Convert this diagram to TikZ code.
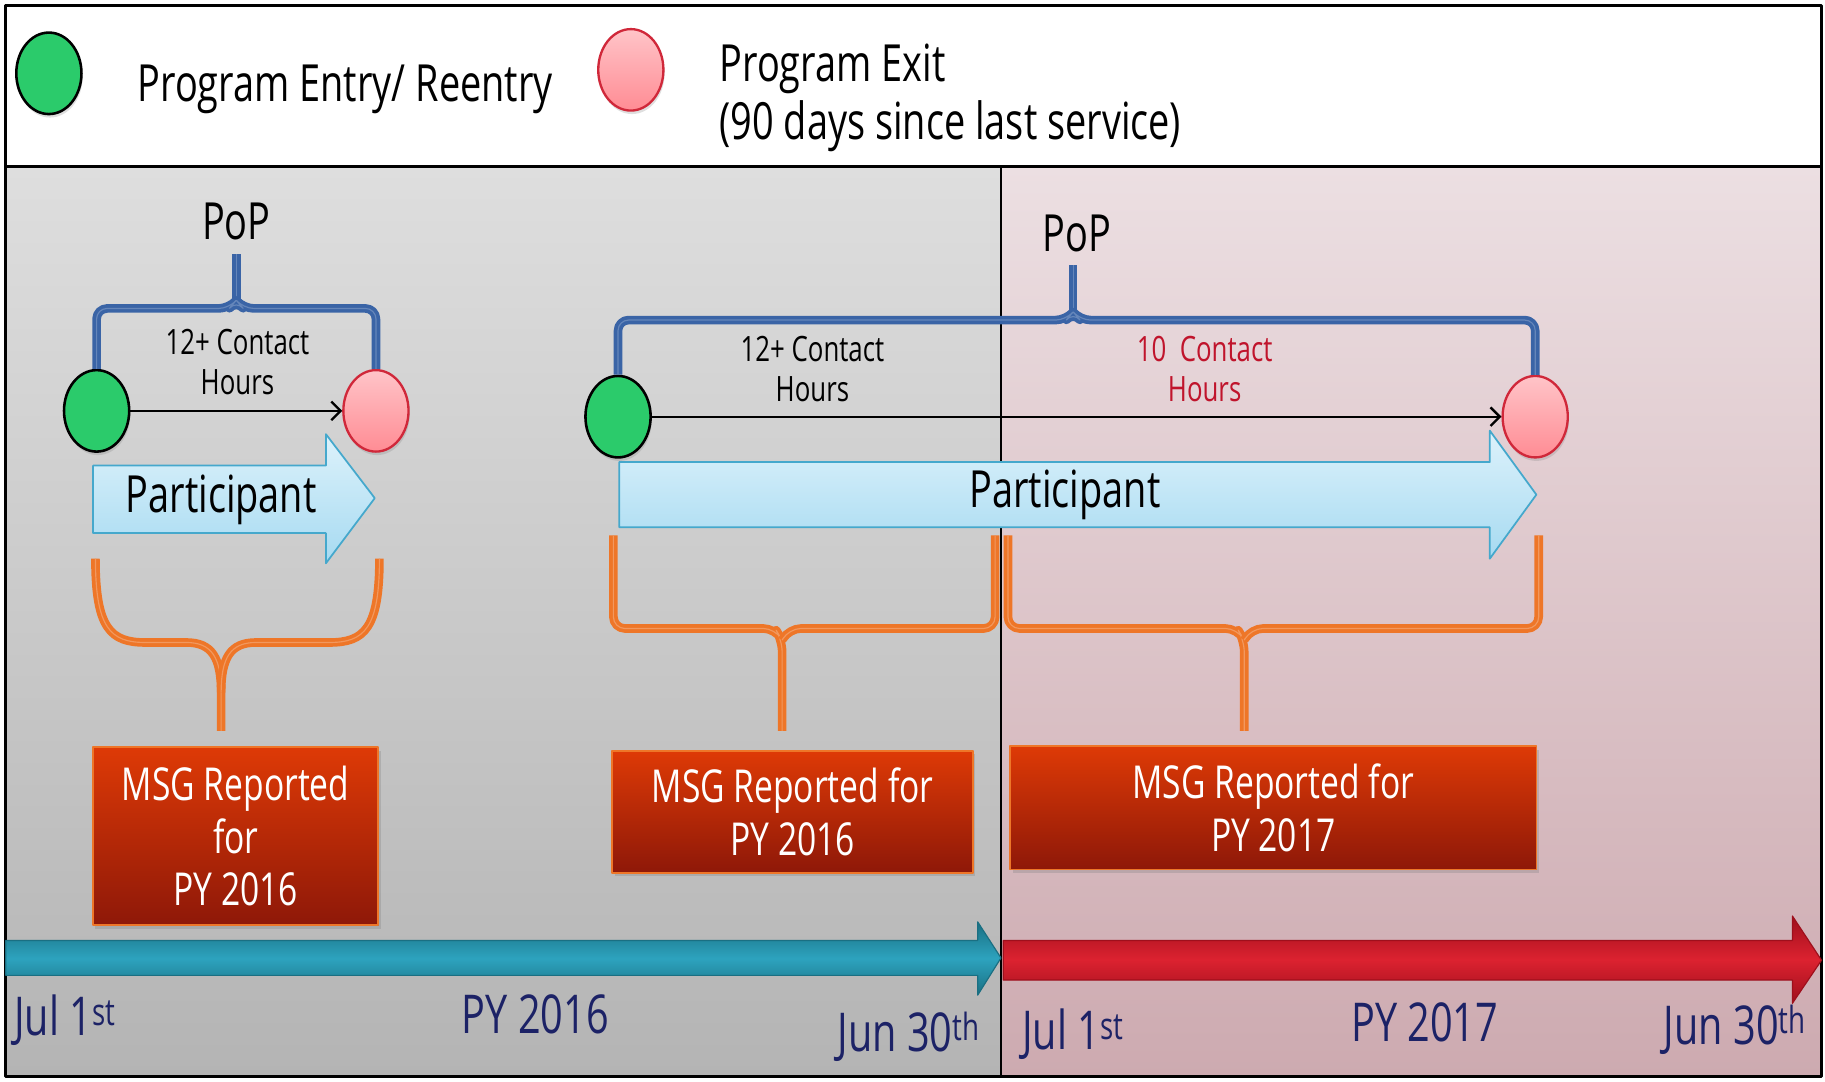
\documentclass[tikz,border=0pt]{standalone}
\usepackage{fontspec}
\setmainfont{Open Sans}[FakeStretch=0.74]
\usetikzlibrary{arrows.meta,shapes.geometric,shadows}
\definecolor{entrygreen}{HTML}{2BCB6B}
\definecolor{exitpink}{HTML}{FFC4C8}
\definecolor{exitpinkdk}{HTML}{FF8C94}
\definecolor{exitedge}{HTML}{D0283A}
\definecolor{popblue}{HTML}{3A64A6}
\definecolor{msgorange}{HTML}{EE7628}
\definecolor{msgtop}{HTML}{DE3A06}
\definecolor{msgbot}{HTML}{8E1808}
\definecolor{parttop}{HTML}{DDF2FB}
\definecolor{partbot}{HTML}{A6DAF1}
\definecolor{partedge}{HTML}{45A8CC}
\definecolor{graytop}{HTML}{DEDEDE}
\definecolor{graybot}{HTML}{B4B4B4}
\definecolor{pinktop}{HTML}{ECDFE2}
\definecolor{pinkbot}{HTML}{CDAAB0}
\definecolor{tealmid}{HTML}{2DA3BE}
\definecolor{tealdk}{HTML}{1A6F82}
\definecolor{redmid}{HTML}{DC2230}
\definecolor{reddk}{HTML}{9E0F1C}
\definecolor{navy}{HTML}{1C2266}
\definecolor{hoursred}{HTML}{C0142C}
\begin{document}
\begin{tikzpicture}[x=1pt, y=-1pt, line join=round,
  entry/.style={ellipse, draw=black, line width=2.2pt, fill=entrygreen, minimum width=56pt, minimum height=70pt, inner sep=0pt, drop shadow={opacity=0.25, shadow xshift=1pt, shadow yshift=-3pt}},
  exit/.style={ellipse, draw=exitedge, line width=2pt, top color=exitpink, bottom color=exitpinkdk, minimum width=56pt, minimum height=70pt, inner sep=0pt, drop shadow={opacity=0.25, shadow xshift=1pt, shadow yshift=-3pt}},
  legend/.style={align=left, inner sep=0pt, font=\fontsize{44}{50}\selectfont},
  pop/.style={anchor=base, inner sep=0pt, font=\fontsize{44}{50}\selectfont},
  hours/.style={align=center, inner sep=0pt, font=\fontsize{30}{34}\selectfont},
  popbrace/.style={draw=popblue, line width=3.2pt, double=popblue!78!white, double distance=1pt, rounded corners=9pt},
  msgbrace/.style={draw=msgorange, line width=3.2pt, double=msgorange!75!white, double distance=1pt},
  part/.style={draw=partedge, line width=1.5pt, top color=parttop, bottom color=partbot},
  parttext/.style={anchor=base, inner sep=0pt, font=\fontsize{44}{50}\selectfont},
  msg/.style={draw=msgorange, line width=1.5pt, top color=msgtop, bottom color=msgbot, text=white, align=center, inner sep=0pt, font=\fontsize{39}{45}\selectfont, drop shadow={opacity=0.3, shadow xshift=2pt, shadow yshift=-3pt}},
  year/.style={text=navy, inner sep=0pt, font=\fontsize{46}{50}\selectfont},
  >={Straight Barb[length=8pt, width=16pt]}]
\useasboundingbox (0,0) rectangle (1568,929);
\fill[white] (0,0) rectangle (1568,929);
\shade[top color=graytop, bottom color=graybot] (5,143) rectangle (860,925);
\shade[top color=pinktop, bottom color=pinkbot] (860,143) rectangle (1565,925);
\draw[line width=1.5pt] (860,143) -- (860,925);
\draw[line width=2.5pt] (5,5) rectangle (1565,925);
\draw[line width=2.5pt] (5,143) -- (1565,143);
\node[entry] (legin) at (42,63) {};
\node[legend, anchor=base west] (legintext) at (118,87) {Program Entry/ Reentry};
\node[exit] (legout) at (542,60) {};
\node[legend, anchor=west] (legouttext) at (618,84) {Program Exit\\(90 days since last service)};
\node[pop] (pop1) at (203,206) {PoP};
\node[entry] (g1) at (83,353) {};
\node[exit] (x1) at (323,353) {};
\node[hours] (h1) at (204,311) {12+ Contact\\Hours};
\draw[->, line width=2pt] (g1) -- (x1);
\draw[popbrace] (203,258) -- (203,218);
\draw[popbrace] (g1.north) -- (83,265) -- (197,265) -- (203,258) -- (209,265) -- (323,265) -- (x1.north);
\node[pop] (pop2) at (925,216) {PoP};
\node[entry] (g2) at (531,358) {};
\node[exit] (x2) at (1319,358) {};
\node[hours] (h2) at (698,317) {12+ Contact\\Hours};
\node[hours, text=hoursred] (h3) at (1035,317) {10\ \ Contact\\Hours};
\draw[->, line width=2pt] (g2) -- (x2);
\draw[popbrace] (922,268) -- (922,228);
\draw[popbrace] (g2.north) -- (531,275) -- (916,275) -- (922,268) -- (928,275) -- (1319,275) -- (x2.north);
\draw[part] (80,400) -- (280,400) -- (280,373) -- (322,428) -- (280,484) -- (280,458) -- (80,458) -- cycle;
\node[parttext] (pt1) at (190,440) {Participant};
\draw[part] (532,397) -- (1280,397) -- (1280,370) -- (1320,425) -- (1280,480) -- (1280,453) -- (532,453) -- cycle;
\node[parttext] (pt2) at (915,436) {Participant};
\node[msg, minimum width=245pt, minimum height=153pt] (msg1) at (202.5,718.5) {MSG Reported\\for\\PY 2016};
\node[msg, minimum width=310pt, minimum height=105pt] (msg2) at (681,697.5) {MSG Reported for\\PY 2016};
\node[msg, minimum width=452pt, minimum height=106pt] (msg3) at (1094,694) {MSG Reported for\\PY 2017};
\draw[msgbrace] (82,480) .. controls (82,540) and (95,552) .. (125,552) -- (160,552) .. controls (182,552) and (190,565) .. (190,595) -- (190,628);
\draw[msgbrace] (326,480) .. controls (326,540) and (313,552) .. (283,552) -- (220,552) .. controls (198,552) and (190,565) .. (190,595);
\draw[msgbrace, rounded corners=10pt] (527,460) -- (527,540) -- (666,540) -- (672,550) -- (672,628);
\draw[msgbrace, rounded corners=10pt] (855,460) -- (855,540) -- (678,540) -- (672,550);
\draw[msgbrace, rounded corners=10pt] (866,460) -- (866,540) -- (1063,540) -- (1069,550) -- (1069,628);
\draw[msgbrace, rounded corners=10pt] (1322,460) -- (1322,540) -- (1075,540) -- (1069,550);
\draw[draw=tealdk, line width=1pt, top color=tealdk, bottom color=tealdk, middle color=tealmid] (5,808) -- (840,808) -- (840,792) -- (860,823) -- (840,855) -- (840,838) -- (5,838) -- cycle;
\draw[draw=reddk, line width=1pt, top color=reddk, bottom color=reddk, middle color=redmid] (862,808) -- (1540,808) -- (1540,787) -- (1565,825) -- (1540,862) -- (1540,842) -- (862,842) -- cycle;
\node[year, anchor=base west] (jul1) at (12,890) {Jul 1\textsuperscript{st}};
\node[year, anchor=base] (py16) at (460,888) {PY 2016};
\node[year, anchor=base east] (jun1) at (842,903) {Jun 30\textsuperscript{th}};
\node[year, anchor=base west] (jul2) at (878,902) {Jul 1\textsuperscript{st}};
\node[year, anchor=base] (py17) at (1224,895) {PY 2017};
\node[year, anchor=base east] (jun2) at (1552,897) {Jun 30\textsuperscript{th}};
\end{tikzpicture}
\end{document}
